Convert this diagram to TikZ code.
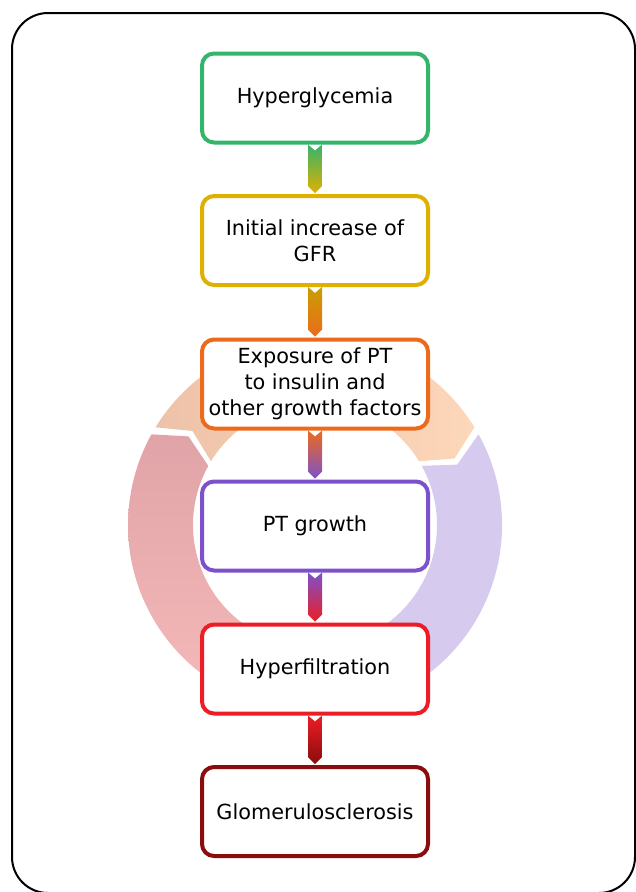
\documentclass[tikz,border=0pt]{standalone}
\usepackage{fontspec}
\setmainfont{DejaVu Sans}
\usetikzlibrary{calc}
\definecolor{cgreen}{HTML}{35B46B}
\definecolor{cyellow}{HTML}{E0B000}
\definecolor{corange}{HTML}{EC6A1C}
\definecolor{cpurple}{HTML}{7D51CB}
\definecolor{cred}{HTML}{EC1D24}
\definecolor{cdark}{HTML}{8A0C0C}
\definecolor{peachL}{HTML}{EDC2A9}
\definecolor{peachR}{HTML}{FDD7BA}
\definecolor{pinkT}{HTML}{E0A4A8}
\definecolor{pinkB}{HTML}{F6BABA}
\definecolor{lav}{HTML}{D6CAEF}
\newcommand\flowarrow[4]{%
  \shade[top color=#3, bottom color=#4]
    ($(#1.south)+(-7,0)$) -- ($(#1.south)+(0,6)$) -- ($(#1.south)+(7,0)$)
    -- ($(#2.north)+(7,-8)$) -- ($(#2.north)+(0,-1)$) -- ($(#2.north)+(-7,-8)$) -- cycle;}
\tikzset{
  flowbox/.style={draw=#1, line width=4pt, rounded corners=12pt, fill=white,
    minimum width=226pt, minimum height=89pt, align=center, inner sep=2pt,
    font=\fontsize{20.8}{26}\selectfont, text=black}
}
\begin{document}
\begin{tikzpicture}[x=1pt,y=-1pt]
\useasboundingbox (0,0) rectangle (636,892);
\fill[white] (0,0) rectangle (636,892);
\draw[line width=2pt, rounded corners=36pt] (12,13) rectangle (635,893);
% ring
\begin{scope}[shift={(315,525)}, yscale=-1]
  \shade[left color=peachL, right color=peachR]
    (148.5:187) arc[start angle=148.5, end angle=31.5, radius=187]
    -- (25.5:154.5) -- (31.5:122)
    arc[start angle=31.5, end angle=148.5, radius=122]
    -- (142.5:154.5) -- cycle;
  \fill[lav]
    (29:187) arc[start angle=29, end angle=-88, radius=187]
    -- (-94:154.5) -- (-88:122)
    arc[start angle=-88, end angle=29, radius=122]
    -- (23:154.5) -- cycle;
  \shade[top color=pinkT, bottom color=pinkB]
    (270:187) arc[start angle=270, end angle=151, radius=187]
    -- (145:154.5) -- (151:122)
    arc[start angle=151, end angle=270, radius=122]
    -- (264:154.5) -- cycle;
\end{scope}
% boxes
\node[flowbox=cgreen]  (b1) at (315,98)    {Hyperglycemia};
\node[flowbox=cyellow] (b2) at (315,240.5) {Initial increase of\\GFR};
\node[flowbox=corange] (b3) at (315,384)   {Exposure of PT\\to insulin and\\other growth factors};
\node[flowbox=cpurple] (b4) at (315,526)   {PT growth};
\node[flowbox=cred]    (b5) at (315,669)   {Hyperfiltration};
\node[flowbox=cdark]   (b6) at (315,811.5) {Glomerulosclerosis};
% arrows
\flowarrow{b1}{b2}{cgreen}{cyellow}
\flowarrow{b2}{b3}{cyellow!90!black}{corange}
\flowarrow{b3}{b4}{corange}{cpurple}
\flowarrow{b4}{b5}{cpurple}{cred}
\flowarrow{b5}{b6}{cred}{cdark}
\end{tikzpicture}
\end{document}
